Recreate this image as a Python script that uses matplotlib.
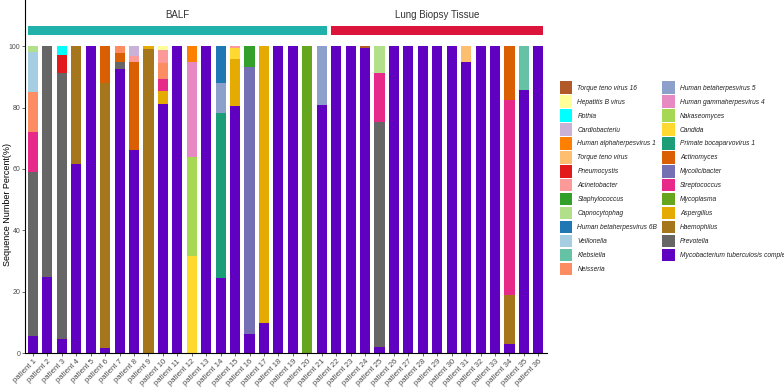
import matplotlib
matplotlib.use("Agg")
import matplotlib.pyplot as plt
import numpy as np
from matplotlib.patches import Rectangle, Patch

plt.rcParams["font.family"] = ["Liberation Sans", "DejaVu Sans"]

patients = [f"patient {i}" for i in range(1, 37)]

# legend order (top of stack first)
taxa = [
    "Torque teno virus 16", "Hepatitis B virus", "Rothia", "Cardiobacteriu",
    "Human alphaherpesvirus 1", "Torque teno virus", "Pneumocystis", "Acinetobacter",
    "Staphylococcus", "Capnocytophag", "Human betaherpesvirus 6B", "Veillonella",
    "Klebsiella", "Neisseria",
    "Human betaherpesvirus 5", "Human gammaherpesvirus 4", "Nakaseomyces", "Candida",
    "Primate bocaparvovirus 1", "Actinomyces", "Mycolicibacter", "Streptococcus",
    "Mycoplasma", "Aspergillus", "Haemophilus", "Prevotella",
    "Mycobacterium tuberculosis complex",
]
colors = [
    "#B15928", "#FFFF99", "#00FFFF", "#CAB2D6",
    "#FF7F00", "#FDBF6F", "#E31A1C", "#FB9A99",
    "#33A02C", "#B2DF8A", "#1F78B4", "#A6CEE3",
    "#66C2A5", "#FC8D62",
    "#8DA0CB", "#E78AC3", "#A6D854", "#FFD92F",
    "#1B9E77", "#D95F02", "#7570B3", "#E7298A",
    "#66A61E", "#E6AB02", "#A6761D", "#666666",
    "#6000C0",
]

# percentages per taxon, keyed by patient number (others are 0)
mtb = [5.6, 25, 4.6, 61.6, 100, 1.6, 92.4, 66.2, 0, 81.1, 100, 0,
       100, 24.4, 80.5, 6.3, 9.8, 100, 100, 0, 80.8, 100, 100, 99.5,
       2.2, 100, 100, 100, 100, 100, 94.7, 100, 100, 3.0, 85.7, 100]
prevotella = {1: 53.5, 2: 75, 3: 86.7, 7: 2.3, 25: 73.0}
haemophilus = {4: 38.4, 6: 86.3, 9: 98.9, 34: 15.9}
aspergillus = {9: 1.1, 10: 4.3, 15: 15.2, 17: 90.2}
mycoplasma = {20: 100}
streptococcus = {1: 13.0, 10: 3.8, 25: 15.9, 34: 63.5}
mycolicibacter = {16: 87.0}
actinomyces = {6: 12.1, 7: 2.9, 8: 28.6, 34: 17.6}
bocaparvovirus = {14: 53.9}
candida = {12: 31.7, 15: 3.8}
nakaseomyces = {12: 32.3}
hgammahv4 = {12: 30.9}
hbetahv5 = {14: 9.6, 21: 19.2}
neisseria = {1: 13.0, 7: 2.4, 10: 5.4}
klebsiella = {35: 14.3}
veillonella = {1: 13.1}
hbetahv6b = {14: 12.1}
capnocytophag = {1: 1.8, 25: 8.9}
staphylococcus = {16: 6.7}
acinetobacter = {8: 1.9, 10: 4.1, 15: 0.5}
pneumocystis = {3: 5.8}
ttv = {31: 5.3}
halphahv1 = {12: 5.1}
cardiobacteriu = {8: 3.3}
rothia = {3: 2.9}
hepb = {10: 1.3}
ttv16 = {24: 0.5}

sparse = [ttv16, hepb, rothia, cardiobacteriu, halphahv1, ttv, pneumocystis,
          acinetobacter, staphylococcus, capnocytophag, hbetahv6b, veillonella,
          klebsiella, neisseria, hbetahv5, hgammahv4, nakaseomyces, candida,
          bocaparvovirus, actinomyces, mycolicibacter, streptococcus, mycoplasma,
          aspergillus, haemophilus, prevotella]

n = len(patients)
values = []
for d in sparse:
    row = np.zeros(n)
    for k, v in d.items():
        row[k - 1] = v
    values.append(row)
values.append(np.array(mtb, dtype=float))

groups = [("BALF", 1, 21, "#20B2AA"), ("Lung Biopsy Tissue", 22, 36, "#DC143C")]

fig = plt.figure(figsize=(7.84, 3.88), dpi=100)
ax = fig.add_axes([0.0319, 0.0894, 0.6658, 0.9106])

x = np.arange(n)
width = 0.7
bottom = np.zeros(n)
# stack from the bottom: last legend entry first
for name, col, vals in reversed(list(zip(taxa, colors, values))):
    ax.bar(x, vals, width, bottom=bottom, color=col, label=name, linewidth=0)
    bottom += vals

ax.set_xlim(-0.55, n - 0.4)
ax.set_ylim(0, 115)
ax.set_yticks([0, 20, 40, 60, 80, 100])
ax.set_xticks(x)
ax.set_xticklabels(patients, rotation=45, ha="right", rotation_mode="anchor",
                   fontsize=5.6, color="#4D4D4D")
ax.tick_params(axis="y", labelsize=5, colors="#4D4D4D", length=2, width=0.6, pad=1.5)
ax.tick_params(axis="x", length=2, width=0.6, colors="#4D4D4D", labelcolor="#4D4D4D",
               pad=1.5)
ax.set_ylabel("Sequence Number Percent(%)", fontsize=6.5)
ax.yaxis.set_label_coords(-0.024, 0.42)
for s in ["top", "right"]:
    ax.spines[s].set_visible(False)
for s in ["left", "bottom"]:
    ax.spines[s].set_linewidth(0.8)

for label, i0, i1, col in groups:
    x0 = i0 - 1 - width / 2
    x1 = i1 - 1 + width / 2
    ax.add_patch(Rectangle((x0, 103.7), x1 - x0, 2.9, facecolor=col,
                           edgecolor="none", clip_on=False))
    ax.text((x0 + x1) / 2, 110.0, label, ha="center", va="center", fontsize=7,
            color="#333333")

handles = [Patch(facecolor=c, edgecolor="none", label=t) for t, c in zip(taxa, colors)]
leg = fig.legend(handles=handles, loc="upper left", bbox_to_anchor=(0.714, 0.79),
                 ncol=2, frameon=False, fontsize=4.8, handlelength=1.9,
                 handleheight=2.5, labelspacing=0.22, columnspacing=0.75,
                 handletextpad=0.75, borderaxespad=0, borderpad=0)
for t in leg.get_texts():
    t.set_fontstyle("italic")
    t.set_color("#222222")

fig.savefig("out.png", dpi=100)
